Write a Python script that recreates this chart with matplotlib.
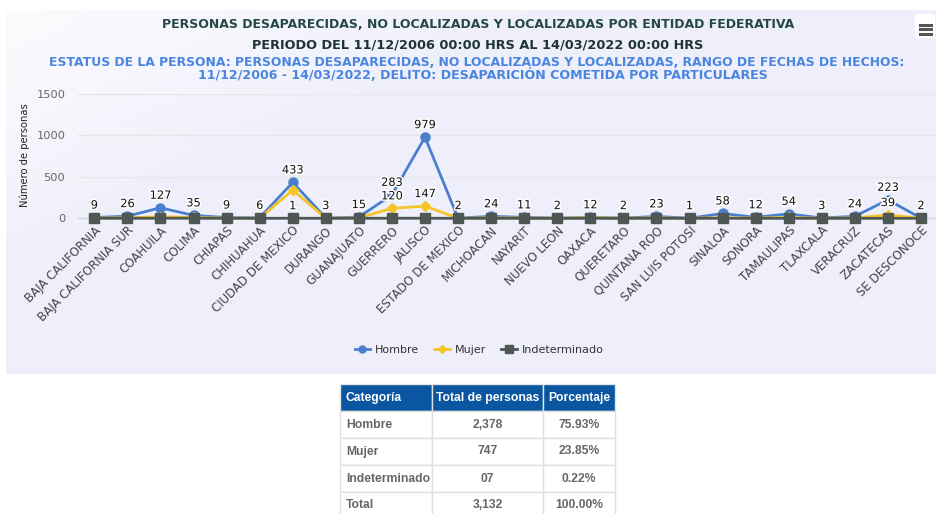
import numpy as np
import matplotlib
matplotlib.use("Agg")
import matplotlib.pyplot as plt
from matplotlib.lines import Line2D
from matplotlib.patches import Rectangle, FancyBboxPatch
import matplotlib.patheffects as pe

# ---------------- data ----------------
states = ["BAJA CALIFORNIA", "BAJA CALIFORNIA SUR", "COAHUILA", "COLIMA", "CHIAPAS",
          "CHIHUAHUA", "CIUDAD DE MEXICO", "DURANGO", "GUANAJUATO", "GUERRERO",
          "JALISCO", "ESTADO DE MEXICO", "MICHOACAN", "NAYARIT", "NUEVO LEON",
          "OAXACA", "QUERETARO", "QUINTANA ROO", "SAN LUIS POTOSI", "SINALOA",
          "SONORA", "TAMAULIPAS", "TLAXCALA", "VERACRUZ", "ZACATECAS", "SE DESCONOCE"]
hombre = [9, 26, 127, 35, 9, 6, 433, 3, 15, 283, 979, 2, 24, 11, 2, 12, 2, 23, 1,
          58, 12, 54, 3, 24, 223, 2]
mujer = [3, 5, 20, 10, 2, 2, 340, 1, 5, 120, 147, 1, 5, 3, 1, 8, 1, 5, 0, 8, 3, 10,
         1, 5, 39, 2]
indeterminado = [1, 0, 1, 1, 0, 0, 1, 0, 0, 1, 1, 0, 0, 0, 0, 0, 0, 0, 0, 1, 0, 0,
                 0, 0, 0, 0]
# which labels are visible in the original (overlap hiding)
show_hombre = [True] * 26
show_mujer_idx = [9, 10, 24]
show_indet_idx = [6]

series_names = ["Hombre", "Mujer", "Indeterminado"]

title1 = "PERSONAS DESAPARECIDAS, NO LOCALIZADAS Y LOCALIZADAS POR ENTIDAD FEDERATIVA"
title2 = "PERIODO DEL 11/12/2006 00:00 HRS AL 14/03/2022 00:00 HRS"
title3 = "ESTATUS DE LA PERSONA: PERSONAS DESAPARECIDAS, NO LOCALIZADAS Y LOCALIZADAS, RANGO DE FECHAS DE HECHOS:"
title4 = "11/12/2006 - 14/03/2022, DELITO: DESAPARICIÓN COMETIDA POR PARTICULARES"
ylabel = "Número de personas"
yticks = [0, 500, 1000, 1500]

table_header = ["Categoría", "Total de personas", "Porcentaje"]
table_cats = ["Hombre", "Mujer", "Indeterminado", "Total"]
table_totals = ["2,378", "747", "07", "3,132"]
table_pcts = ["75.93%", "23.85%", "0.22%", "100.00%"]

# ---------------- figure ----------------
W, H = 936, 514
fig = plt.figure(figsize=(W / 100, H / 100), dpi=100)
fig.patch.set_facecolor("white")

def fx(px):
    return px / W

def fy(py):
    return 1 - py / H

# chart background (soft gradient)
bg = fig.add_axes([fx(6), fy(374), fx(936 - 6), (374 - 10) / H], zorder=-10)
gx = np.linspace(0, 1, 200)[None, :]
gy = np.linspace(0, 1, 100)[:, None]
t = np.clip(0.55 * gx + 0.45 * gy, 0, 1)
c0 = np.array([1.0, 1.0, 1.0])
c1 = np.array([0xef, 0xef, 0xfb]) / 255
img = c1 + (c0 - c1) * (1 - np.clip(t * 3, 0, 1))[..., None] * 0.8
bg.imshow(img, aspect="auto", extent=[0, 1, 0, 1], origin="upper")
bg.set_axis_off()

# main axes
left, right = 77.8, 937.5
top, bottom = 94.0, 218.3
ax = fig.add_axes([fx(left), fy(bottom), fx(right - left), (bottom - top) / H])
ax.patch.set_alpha(0)
x = np.arange(len(states))
ax.set_xlim(-0.5, len(states) - 0.5)
ax.set_ylim(0, 1500)
ax.set_yticks(yticks)
ax.set_yticklabels([str(v) for v in yticks], color="#666666", fontsize=8.2)
ax.tick_params(axis="y", length=0, pad=9)
ax.yaxis.grid(True, color="#e6e6e6", linewidth=1)
ax.set_axisbelow(True)
for s in ["top", "right", "left"]:
    ax.spines[s].set_visible(False)
ax.spines["bottom"].set_color("#ccd6eb")
ax.spines["bottom"].set_linewidth(1)
ax.set_xticks(x)
ax.set_xticklabels(states, rotation=45, ha="right", rotation_mode="anchor",
                   fontsize=8.5, color="#444444")
ax.tick_params(axis="x", length=0, pad=4)

c_h = "#4a7fd0"
c_m = "#f5c428"
c_i = "#4f5754"
ax.plot(x, hombre, color=c_h, lw=2, marker="o", ms=6.5, clip_on=False, zorder=3,
        label=series_names[0])
ax.plot(x, mujer, color=c_m, lw=2, marker="D", ms=5, clip_on=False, zorder=4,
        label=series_names[1])
ax.plot(x, indeterminado, color=c_i, lw=2, marker="s", ms=7.5, clip_on=False, zorder=5,
        label=series_names[2])

stroke = [pe.withStroke(linewidth=2.2, foreground="white")]

def lab(i, v):
    ax.annotate(str(v), (x[i], v), xytext=(0, 12), textcoords="offset pixels",
                ha="center", va="center", fontsize=8.2, color="#111111",
                path_effects=stroke, zorder=6, annotation_clip=False)

for i, v in enumerate(hombre):
    if show_hombre[i]:
        lab(i, v)
for i in show_mujer_idx:
    lab(i, mujer[i])
for i in show_indet_idx:
    lab(i, indeterminado[i])

fig.text(fx(25), fy(155), ylabel, rotation=90, ha="center", va="center",
         fontsize=7.2, color="#222222")

# legend
handles = [Line2D([], [], color=c_h, lw=2, marker="o", ms=5),
           Line2D([], [], color=c_m, lw=2, marker="D", ms=4),
           Line2D([], [], color=c_i, lw=2, marker="s", ms=6)]
leg = fig.legend(handles, series_names, loc="center", bbox_to_anchor=(fx(479), fy(350)),
                 ncol=3, frameon=False, fontsize=8, handlelength=1.4, handletextpad=0.4,
                 columnspacing=1.4)
for t_ in leg.get_texts():
    t_.set_color("#333333")

# titles (fit to measured widths)
renderer = fig.canvas.get_renderer()

def fit_text(cx, cy, s, width_px, color, weight="bold", size0=9):
    t = fig.text(fx(cx), fy(cy), s, ha="center", va="center", color=color,
                 fontsize=size0, fontweight=weight)
    w = t.get_window_extent(renderer=renderer).width
    t.set_fontsize(size0 * width_px / w)
    return t

fit_text(478, 25, title1, 634, "#244848")
fit_text(478, 45, title2, 451, "#1f3434")
fit_text(477, 62, title3, 853, "#4a86e0")
fit_text(483, 75, title4, 573, "#4a86e0")

# menu icon
box = FancyBboxPatch((fx(915), fy(38)), fx(20), 24 / H, boxstyle="round,pad=0,rounding_size=0.004",
                     transform=fig.transFigure, facecolor="white", edgecolor="none", zorder=1)
fig.add_artist(box)
for yy in (24.5, 29, 33.5):
    fig.add_artist(Line2D([fx(920), fx(931)], [fy(yy), fy(yy)], color="#555555", lw=2.2,
                          transform=fig.transFigure, zorder=2))

# table
col_edges = [340, 432, 543, 615]
row_edges = [384, 411, 438, 465, 492, 519]
hdr_color = "#0b56a0"
tfs = 8.7
for j in range(3):
    fig.add_artist(Rectangle((fx(col_edges[j]), fy(row_edges[1])),
                             fx(col_edges[j + 1] - col_edges[j]),
                             (row_edges[1] - row_edges[0]) / H,
                             transform=fig.transFigure, facecolor=hdr_color,
                             edgecolor="#e4e4e4", lw=1))
    xt = col_edges[j] + 6 if j == 0 else (col_edges[j] + col_edges[j + 1]) / 2
    fig.text(fx(xt), fy((row_edges[0] + row_edges[1]) / 2), table_header[j],
             ha="left" if j == 0 else "center", va="center", color="white",
             fontsize=tfs, fontweight="bold", family="Liberation Sans")
rows = list(zip(table_cats, table_totals, table_pcts))
for r, row in enumerate(rows):
    y0, y1 = row_edges[r + 1], row_edges[r + 2]
    for j in range(3):
        fig.add_artist(Rectangle((fx(col_edges[j]), fy(y1)),
                                 fx(col_edges[j + 1] - col_edges[j]), (y1 - y0) / H,
                                 transform=fig.transFigure, facecolor="white",
                                 edgecolor="#e0e0e0", lw=1))
        xt = col_edges[j] + 6 if j == 0 else (col_edges[j] + col_edges[j + 1]) / 2
        fig.text(fx(xt), fy((y0 + y1) / 2), row[j], ha="left" if j == 0 else "center",
                 va="center", color="#666666", fontsize=tfs, fontweight="bold",
                 family="Liberation Sans")

fig.savefig("out.png", dpi=100)
